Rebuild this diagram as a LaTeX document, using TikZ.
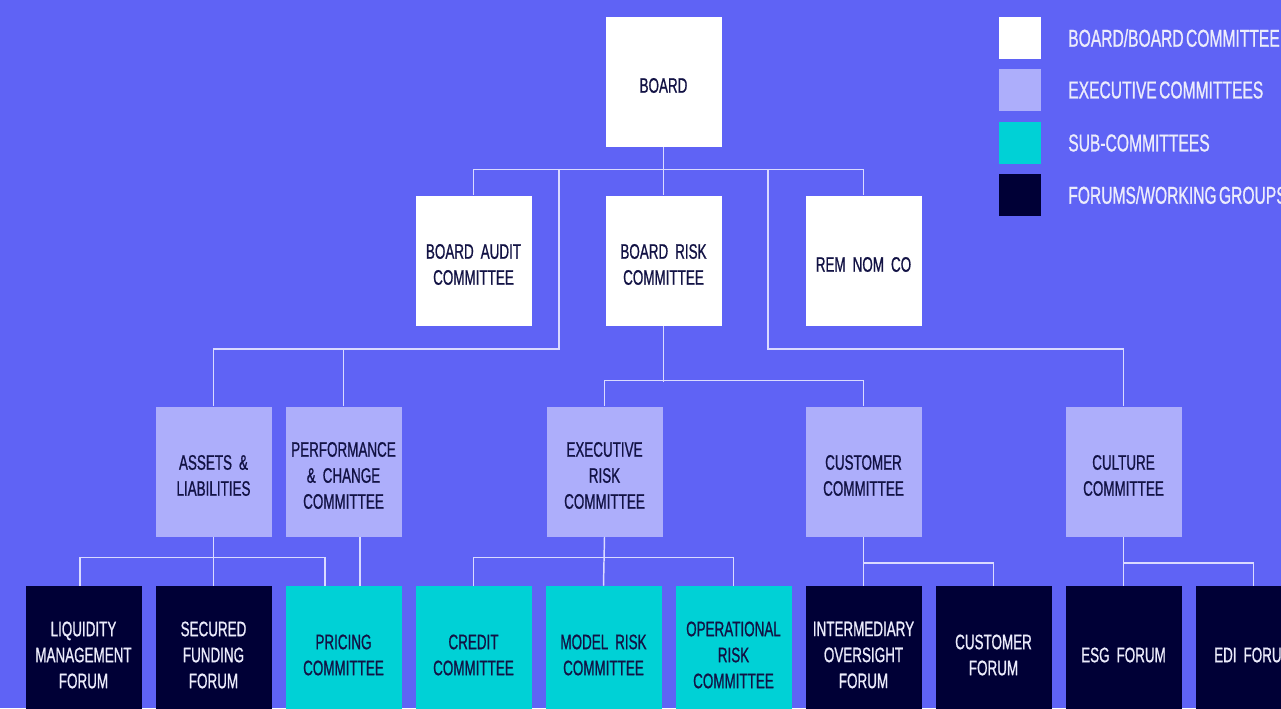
\documentclass[tikz,border=0pt]{standalone}
\usepackage{fontspec}
\setmainfont{Liberation Sans}[FakeStretch=0.64, FakeBold=0.8, WordSpace={0.55}]
\usetikzlibrary{calc}
\definecolor{bg}{RGB}{95,99,245}
\definecolor{execc}{RGB}{173,174,251}
\definecolor{subc}{RGB}{0,209,214}
\definecolor{forumc}{RGB}{0,0,54}
\definecolor{ink}{RGB}{18,18,68}
\definecolor{lite}{RGB}{236,236,252}
\definecolor{wire}{RGB}{218,218,255}
\begin{document}
\begin{tikzpicture}[x=0.75pt,y=-0.75pt,
  box/.style={minimum width=87pt, minimum height=97.5pt, inner sep=0pt},
  tx/.style={align=center, text width=85pt, inner sep=0pt, yshift=-3pt,
    font=\fontsize{15.75}{19.5}\selectfont},
  dk/.style={tx, text=ink},
  lt/.style={tx, text=lite},
  boardbox/.style={box, fill=white},
  execbox/.style={box, fill=execc},
  subbox/.style={box, fill=subc},
  forumbox/.style={box, fill=forumc},
  legsq/.style={minimum width=31.5pt, minimum height=31.5pt, inner sep=0pt},
  legtxt/.style={anchor=west, text=lite, inner sep=0pt, font=\fontsize{18.3}{22}\selectfont},
  wirel/.style={draw=wire, line width=1.1pt}
]
\useasboundingbox (0,0) rectangle (1281,708);
\clip (0,0) rectangle (1281,708);
\fill[bg] (0,0) rectangle (1281,708);

% row 1
\node[boardbox, label={[dk]center:BOARD}] (board) at (663.5,81.5) {};
% row 2
\node[boardbox, label={[dk]center:BOARD AUDIT\\COMMITTEE}] (audit) at (473.5,260.5) {};
\node[boardbox, label={[dk]center:BOARD RISK\\COMMITTEE}] (brc) at (663.5,260.5) {};
\node[boardbox, label={[dk]center:REM NOM CO}] (rem) at (863.5,260.5) {};
% row 3
\node[execbox, label={[dk]center:ASSETS \&\\LIABILITIES}] (assets) at (213.5,471.5) {};
\node[execbox, label={[dk]center:PERFORMANCE\\\& CHANGE\\COMMITTEE}] (perf) at (343.5,471.5) {};
\node[execbox, label={[dk]center:EXECUTIVE\\RISK\\COMMITTEE}] (erc) at (604.5,471.5) {};
\node[execbox, label={[dk]center:CUSTOMER\\COMMITTEE}] (custc) at (863.5,471.5) {};
\node[execbox, label={[dk]center:CULTURE\\COMMITTEE}] (culture) at (1123.5,471.5) {};
% row 4
\node[forumbox, label={[lt]center:LIQUIDITY\\MANAGEMENT\\FORUM}] (liq) at (83.5,651) {};
\node[forumbox, label={[lt]center:SECURED\\FUNDING\\FORUM}] (sec) at (213.5,651) {};
\node[subbox, label={[dk]center:PRICING\\COMMITTEE}] (pricing) at (343.5,651) {};
\node[subbox, label={[dk]center:CREDIT\\COMMITTEE}] (credit) at (473.5,651) {};
\node[subbox, label={[dk]center:MODEL RISK\\COMMITTEE}] (model) at (603.5,651) {};
\node[subbox, label={[dk]center:OPERATIONAL\\RISK\\COMMITTEE}] (oper) at (733.5,651) {};
\node[forumbox, label={[lt]center:INTERMEDIARY\\OVERSIGHT\\FORUM}] (inter) at (863.5,651) {};
\node[forumbox, label={[lt]center:CUSTOMER\\FORUM}] (custf) at (993.5,651) {};
\node[forumbox, label={[lt]center:ESG FORUM}] (esg) at (1123.5,651) {};
\node[forumbox, label={[lt]center:EDI FORUM}] (edi) at (1253.5,651) {};

% connectors
\coordinate (j1) at ($(board.south)+(0,24)$);
\draw[wirel] (board.south) -- (j1);
\draw[wirel] (audit.north) -- ++(0,-26) -| (rem.north);
\draw[wirel] (j1) -- (brc.north);
\coordinate (jl) at (559,170);
\coordinate (jr) at (768,170);
\draw[wirel] (jl) -- ++(0,179) -| (assets.north);
\draw[wirel] (perf.north) -- ++(0,-58);
\draw[wirel] (jr) -- ++(0,179) -| (culture.north);
\draw[wirel] (brc.south) -- ++(0,56) coordinate (j2);
\draw[wirel] (erc.north) -- ++(0,-26) -| (custc.north);
\draw[wirel] (assets.south) -- (sec.north);
\draw[wirel] ($(liq.north)+(-3.5,0)$) -- ++(0,-28) -| ($(pricing.north)+(-18.5,0)$);
\draw[wirel] ($(perf.south)+(16.5,0)$) -- ($(pricing.north)+(16.5,0)$);
\draw[wirel] (erc.south) -- (model.north);
\draw[wirel] (credit.north) -- ++(0,-28) -| (oper.north);
\draw[wirel] (custc.south) -- (inter.north);
\draw[wirel] ($(custc.south)+(0,26)$) -| (custf.north);
\draw[wirel] (culture.south) -- (esg.north);
\draw[wirel] ($(culture.south)+(0,26)$) -| (edi.north);

% legend
\node[legsq, fill=white] (l1) at (1020,38) {};
\node[legsq, fill=execc] (l2) at (1020,90) {};
\node[legsq, fill=subc] (l3) at (1020,143) {};
\node[legsq, fill=forumc] (l4) at (1020,195) {};
\node[legtxt] (t1) at (1068,38) {BOARD/BOARD COMMITTEE};
\node[legtxt] (t2) at (1068,90) {EXECUTIVE COMMITTEES};
\node[legtxt] (t3) at (1068,143) {SUB-COMMITTEES};
\node[legtxt] (t4) at (1068,195) {FORUMS/WORKING GROUPS};
\end{tikzpicture}
\end{document}
